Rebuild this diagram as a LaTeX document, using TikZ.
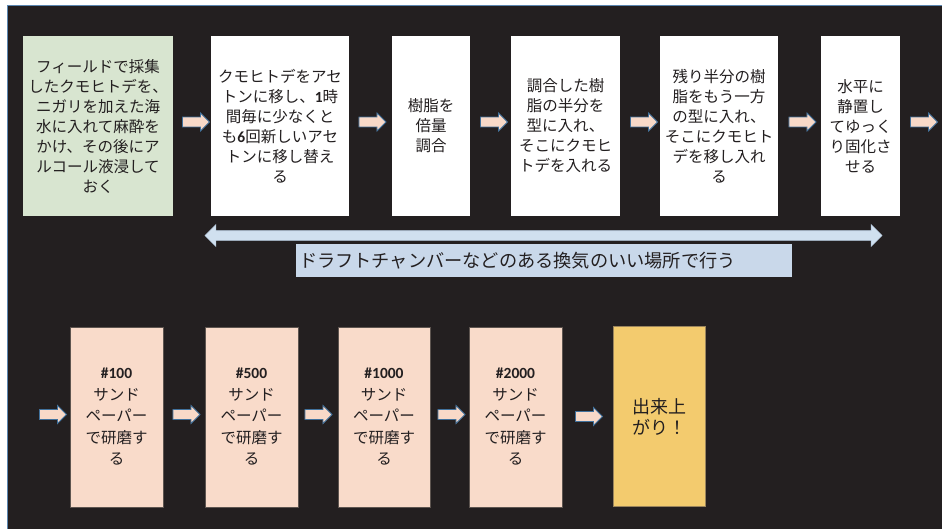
\documentclass[tikz,border=0pt]{standalone}
\usepackage{fontspec}
\setmainfont{Noto Sans CJK JP}
\newfontfamily\latb{Carlito}[BoldFont=Carlito Bold]
\usetikzlibrary{shapes.arrows}
\definecolor{bgdark}{HTML}{231F20}
\definecolor{frameblue}{HTML}{5B86B0}
\definecolor{greenfill}{HTML}{D8E5D0}
\definecolor{pinkfill}{HTML}{F9DBCA}
\definecolor{yellowfill}{HTML}{F3CB6E}
\definecolor{arrfill}{HTML}{F8D9C8}
\definecolor{arrline}{HTML}{41719C}
\definecolor{dblfill}{HTML}{D0E0EF}
\definecolor{labfill}{HTML}{C9D8EA}
\definecolor{txt}{HTML}{231F20}
\definecolor{boxline}{HTML}{5E5550}
\newcommand{\bnum}[1]{{\latb\bfseries #1}}
\tikzset{
  stepbox/.style={rectangle, minimum height=180pt, inner sep=0pt, align=center,
    text=txt, font=\fontsize{15.5}{20}\selectfont},
  whitebox/.style={stepbox, fill=white},
  greenbox/.style={stepbox, fill=greenfill},
  pinkbox/.style={stepbox, fill=pinkfill, draw=boxline, line width=0.8pt,
    font=\fontsize{15.5}{21.5}\selectfont},
  yellowbox/.style={stepbox, fill=yellowfill, draw=boxline!60!yellowfill, line width=0.8pt,
    font=\fontsize{18}{21}\selectfont},
  blockarrow/.style={single arrow, fill=arrfill, draw=arrline, line width=0.9pt,
    minimum height=27pt, minimum width=18pt, inner sep=4.5pt,
    single arrow head extend=4pt, single arrow head indent=0pt},
}
\begin{document}
\begin{tikzpicture}[x=1pt,y=-1pt]
\useasboundingbox (0,0) rectangle (942,528);
\fill[white] (0,0) rectangle (942,528);
\draw[fill=bgdark, draw=frameblue, line width=1pt] (7,5) rectangle (944,530);

% top row
\node[greenbox, minimum width=150pt] (b1) at (98,126)
  {フィールドで採集\\したクモヒトデを、\\ニガリを加えた海\\水に入れて麻酔を\\かけ、その後にア\\ルコール液浸して\\おく};
\node[whitebox, minimum width=138pt] (b2) at (280,126)
  {クモヒトデをアセ\\トンに移し、\bnum{1}時\\間毎に少なくと\\も\bnum{6}回新しいアセ\\トンに移し替え\\る};
\node[whitebox, minimum width=78pt] (b3) at (431,126)
  {樹脂を\\倍量\\調合};
\node[whitebox, minimum width=109pt] (b4) at (565.5,126)
  {調合した樹\\脂の半分を\\型に入れ、\\そこにクモヒ\\トデを入れる};
\node[whitebox, minimum width=118pt] (b5) at (719,126)
  {残り半分の樹\\脂をもう一方\\の型に入れ、\\そこにクモヒト\\デを移し入れ\\る};
\node[whitebox, minimum width=79pt] (b6) at (860.5,126)
  {水平に\\静置し\\てゆっく\\り固化さ\\せる};

\node[blockarrow] (t1) at (193.5,122) {};
\node[blockarrow] (t2) at (370,122) {};
\node[blockarrow] (t3) at (491.5,122) {};
\node[blockarrow] (t4) at (641.5,122) {};
\node[blockarrow] (t5) at (800,122) {};
\node[blockarrow] (t6) at (921.5,122) {};

% double arrow and label
\node[double arrow, fill=dblfill, draw=dblfill!85!arrline, line width=0.6pt,
  minimum height=677pt, minimum width=21pt, inner sep=4.5pt,
  double arrow head extend=6pt, double arrow head indent=0pt] (dbl) at (543.5,235.5) {};
\node[rectangle, fill=labfill, minimum width=496pt, minimum height=33pt,
  text width=490pt, inner xsep=3pt, inner ysep=0pt, align=left,
  text=txt, font=\fontsize{18.2}{20}\selectfont] (lab) at (544,260.5)
  {ドラフトチャンバーなどのある換気のいい場所で行う};

% bottom row
\node[blockarrow] (u0) at (50.5,414.5) {};
\node[pinkbox, minimum width=93pt] (p1) at (116.5,417)
  {\bnum{\#100}\\サンド\\ペーパー\\で研磨す\\る};
\node[blockarrow] (u1) at (184,414.5) {};
\node[pinkbox, minimum width=93pt] (p2) at (251.5,417)
  {\bnum{\#500}\\サンド\\ペーパー\\で研磨す\\る};
\node[blockarrow] (u2) at (316,414.5) {};
\node[pinkbox, minimum width=92pt] (p3) at (384,417)
  {\bnum{\#1000}\\サンド\\ペーパー\\で研磨す\\る};
\node[blockarrow] (u3) at (449,414.5) {};
\node[pinkbox, minimum width=93pt] (p4) at (515.5,417)
  {\bnum{\#2000}\\サンド\\ペーパー\\で研磨す\\る};
\node[blockarrow] (u4) at (586.5,416.5) {};
\node[yellowbox, minimum width=92pt] (fin) at (659,416.5)
  {出来上\\がり！};
\end{tikzpicture}
\end{document}
